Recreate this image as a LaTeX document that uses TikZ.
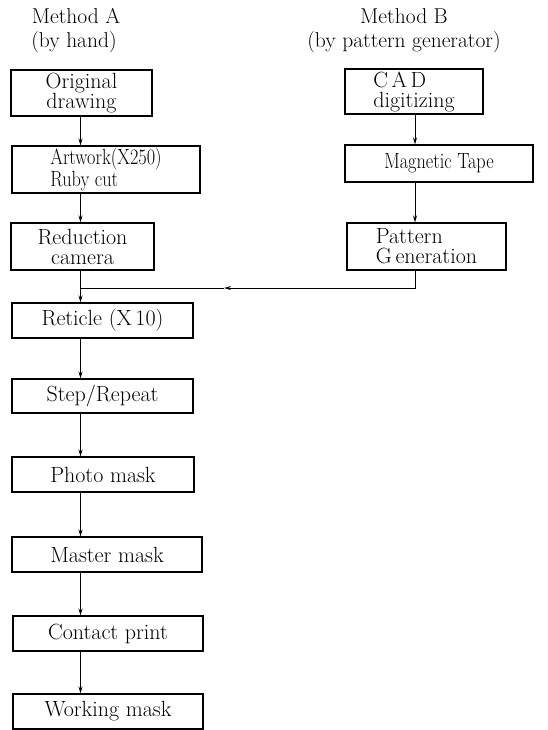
\documentclass[tikz,border=0pt]{standalone}
\usepackage{graphicx}
\usetikzlibrary{arrows.meta}
\newcommand{\cond}[1]{\scalebox{0.83}[1]{#1}}
\begin{document}
\begin{tikzpicture}[x=1pt,y=-1pt,
  box/.style={draw,line width=1.1pt,inner sep=0pt,font=\fontsize{22}{20}\selectfont,align=center},
  head/.style={font=\fontsize{21.5}{24}\selectfont,anchor=base,inner sep=0pt},
  link/.style={line width=0.9pt},
  arr/.style={link,-{Stealth[length=7pt,width=4pt]}}]
\useasboundingbox (0,0) rectangle (548,730);
% headings
\node[head] (ha1) at (76,24) {Method A};
\node[head] (ha2) at (74,48) {(by hand)};
\node[head] (hb1) at (404,24) {Method B};
\node[head] (hb2) at (404,48) {(by pattern generator)};
% column A
\node[box,minimum width=141pt,minimum height=46pt] (a1) at (81.5,93) {Original\\drawing};
\node[box,minimum width=188pt,minimum height=47pt,align=left] (a2) at (106,169.5) {\cond{Artwork(X250)}\\\cond{Ruby cut}};
\node[box,minimum width=143pt,minimum height=47pt] (a3) at (82.5,246.5) {Reduction\\camera};
\node[box,minimum width=181pt,minimum height=35pt] (a4) at (102.5,320.5) {Reticle (X\,10)};
\node[box,minimum width=181pt,minimum height=34pt] (a5) at (102.5,396) {Step/Repeat};
\node[box,minimum width=182pt,minimum height=35pt] (a6) at (103,474.5) {Photo mask};
\node[box,minimum width=190pt,minimum height=35pt] (a7) at (107,554.5) {Master mask};
\node[box,minimum width=190pt,minimum height=35pt] (a8) at (108,633.5) {Contact print};
\node[box,minimum width=190pt,minimum height=35pt] (a9) at (108,711.5) {Working mask};
% column B
\node[box,minimum width=138pt,minimum height=45pt,align=left] (b1) at (414,91.5) {C\,A\,D\\digitizing};
\node[box,minimum width=188pt,minimum height=37pt] (b2) at (439,163.5) {\cond{Magnetic Tape}};
\node[box,minimum width=159pt,minimum height=47pt,align=left] (b3) at (426.5,246.5) {Pattern\\G\,eneration};
% connector guides
\coordinate (ax) at (80.5,0);
\coordinate (bx) at (415,0);
\coordinate (m) at (80.5,288);
\coordinate (mid) at (224,288);
% connectors
\draw[arr] (a1.south -| ax) -- (a2.north -| ax);
\draw[arr] (a2.south -| ax) -- (a3.north -| ax);
\draw[arr] (a3.south -| ax) -- (a4.north -| ax);
\draw[arr] (a4.south -| ax) -- (a5.north -| ax);
\draw[arr] (a5.south -| ax) -- (a6.north -| ax);
\draw[arr] (a6.south -| ax) -- (a7.north -| ax);
\draw[arr] (a7.south -| ax) -- (a8.north -| ax);
\draw[arr] (a8.south -| ax) -- (a9.north -| ax);
\draw[arr] (b1.south -| bx) -- (b2.north -| bx);
\draw[arr] (b2.south -| bx) -- (b3.north -| bx);
\draw[arr] (b3.south -| bx) |- (mid);
\draw[link] (mid) -- (m);
\end{tikzpicture}
\end{document}
